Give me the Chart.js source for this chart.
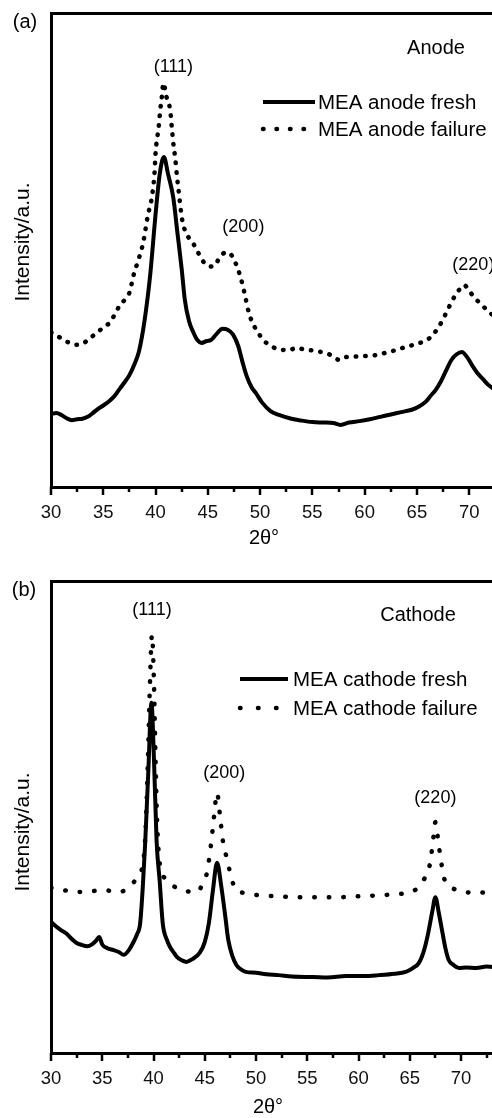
<!DOCTYPE html>
<html>
<head>
<meta charset="utf-8">
<title>XRD anode / cathode</title>
<script src="https://cdn.jsdelivr.net/npm/chart.js@4.4.1/dist/chart.umd.min.js"></script>
<style>
  html, body { margin: 0; padding: 0; background: #fff; overflow: hidden; width: 492px; height: 1118px; }
  .panel { position: relative; width: 492px; height: 559px; overflow: hidden; }
  .panel canvas { position: absolute; left: 0; top: 0; }
</style>
</head>
<body>
<div class="panel"><canvas id="anodeChart" width="511" height="559"></canvas></div>
<div class="panel"><canvas id="cathodeChart" width="502" height="559"></canvas></div>

<script>
'use strict';

const FONT = '"Liberation Sans", Arial, Helvetica, sans-serif';

// ── Anode diffraction (2θ in degrees, intensity a.u.) ──
const anodeFreshX = [
  30.0, 30.5, 31.0, 31.5, 32.0, 32.5, 33.0, 33.5, 34.0, 34.5, 35.0, 35.5, 36.0, 36.5, 37.0, 37.5,
  38.0, 38.4, 38.8, 39.1, 39.5, 40.0, 40.4, 40.8, 41.2, 41.7, 42.1, 42.5, 42.8, 43.2, 43.6, 44.0,
  44.4, 44.9, 45.3, 45.8, 46.4, 46.9, 47.4, 47.9, 48.3, 48.7, 49.2, 49.6, 50.2, 51.0, 51.8, 53.0,
  54.0, 55.0, 56.0, 57.0, 57.7, 58.5, 59.5, 60.5, 61.5, 62.5, 63.5, 64.5, 65.2, 65.8, 66.3, 66.8,
  67.3, 67.8, 68.3, 68.8, 69.3, 69.8, 70.3, 70.8, 71.3, 71.8, 72.4,
];
const anodeFreshY = [
  15.4, 15.6, 15.2, 14.5, 14.1, 14.3, 14.4, 14.8, 15.6, 16.5, 17.2, 18.0, 19.0, 20.5, 22.0, 23.6,
  26.0, 28.5, 33.0, 37.5, 45.0, 57.5, 66.0, 69.6, 66.0, 61.0, 53.5, 46.0, 39.5, 35.0, 32.7, 31.0,
  30.4, 30.8, 31.0, 32.2, 33.4, 33.2, 32.2, 29.8, 26.5, 23.5, 21.0, 19.8, 17.8, 16.0, 15.2, 14.4,
  14.0, 13.7, 13.6, 13.5, 13.1, 13.6, 13.9, 14.3, 14.8, 15.3, 15.8, 16.3, 17.0, 17.9, 19.2, 20.5,
  22.3, 24.6, 26.8, 28.0, 28.5, 27.4, 25.6, 24.0, 22.8, 21.6, 20.6,
];
const anodeFailX = [
  30.0, 30.6, 31.2, 31.8, 32.5, 33.1, 33.6, 34.2, 34.7, 35.2, 35.6, 36.1, 36.6, 37.1, 37.5, 37.9,
  38.4, 38.8, 39.3, 39.6, 39.9, 40.0, 40.3, 40.45, 40.6, 40.75, 41.05, 41.4, 41.55, 41.7, 41.9, 42.05,
  42.2, 42.5, 42.8, 43.6, 44.7, 45.5, 46.2, 46.7, 47.1, 47.6, 48.1, 48.5, 48.9, 49.3, 49.7, 50.3,
  50.9, 51.8, 52.8, 53.5, 54.2, 55.0, 56.0, 56.8, 57.6, 58.2, 59.0, 59.9, 61.0, 62.0, 63.0, 64.0,
  65.0, 66.2, 67.0, 67.8, 68.3, 68.8, 69.2, 69.5, 69.9, 70.3, 70.7, 71.3, 71.9, 72.4,
];
const anodeFailY = [
  32.6, 31.9, 31.0, 30.4, 30.0, 30.3, 31.2, 32.2, 33.1, 34.0, 34.6, 36.4, 38.4, 39.6, 41.0, 44.7,
  48.2, 51.4, 57.7, 60.5, 66.2, 70.4, 76.0, 79.5, 82.3, 85.2, 82.3, 79.5, 76.0, 72.5, 69.0, 65.5,
  62.7, 57.0, 54.2, 51.4, 47.2, 46.5, 48.6, 49.5, 49.3, 47.5, 44.5, 41.0, 37.0, 34.5, 33.0, 31.0,
  30.0, 29.0, 28.9, 29.4, 29.0, 28.8, 28.4, 27.8, 26.8, 27.4, 27.5, 27.6, 27.8, 28.3, 28.9, 29.6,
  30.2, 31.4, 33.5, 36.7, 39.0, 40.9, 42.0, 42.6, 41.8, 40.5, 39.5, 38.2, 36.9, 36.0,
];

// ── Cathode diffraction ──
const cathodeFreshX = [
  30.0, 30.5, 31.0, 31.5, 32.0, 32.5, 33.0, 33.5, 34.0, 34.4, 34.7, 35.0, 35.5, 36.1, 36.6, 37.1,
  37.6, 38.0, 38.4, 38.7, 38.95, 39.2, 39.5, 39.8, 40.05, 40.3, 40.6, 40.9, 41.3, 41.6, 42.0, 42.3,
  42.8, 43.2, 43.8, 44.5, 45.0, 45.4, 45.8, 46.2, 46.6, 47.0, 47.3, 47.7, 48.1, 48.6, 49.0, 50.0,
  51.0, 52.2, 53.5, 55.6, 57.0, 58.8, 60.5, 62.0, 63.5, 64.6, 65.3, 65.9, 66.4, 66.8, 67.2, 67.5,
  67.85, 68.2, 68.5, 68.8, 69.3, 69.8, 70.5, 71.5, 72.5, 73.4,
];
const cathodeFreshY = [
  27.8, 26.8, 26.0, 25.3, 24.2, 23.3, 22.9, 22.6, 23.0, 23.8, 24.6, 23.0, 22.2, 21.8, 21.4, 20.8,
  21.8, 23.3, 25.2, 27.5, 35.0, 45.0, 60.0, 74.2, 62.0, 45.0, 36.5, 27.5, 24.0, 22.5, 21.2, 20.3,
  19.6, 19.3, 19.9, 21.2, 23.5, 27.5, 34.5, 40.3, 35.5, 29.0, 23.9, 20.5, 18.6, 17.6, 17.2, 17.0,
  16.7, 16.5, 16.2, 16.1, 16.0, 16.3, 16.3, 16.5, 16.8, 17.2, 18.0, 19.1, 21.8, 25.4, 30.0, 33.0,
  29.5, 25.4, 22.0, 19.7, 18.6, 18.0, 18.1, 18.0, 18.3, 18.2,
];
const cathodeFailX = [
  30.0, 31.0, 32.5, 34.0, 35.1, 36.0, 36.7, 37.4, 38.0, 38.5, 38.9, 39.2, 39.45, 39.65, 39.85, 40.05,
  40.2, 40.35, 40.6, 41.3, 42.0, 42.8, 44.2, 44.8, 45.2, 45.6, 45.9, 46.2, 46.5, 46.8, 47.2, 47.6,
  48.1, 49.0, 50.0, 52.0, 54.0, 56.0, 58.0, 60.0, 62.0, 64.0, 64.8, 65.9, 66.5, 66.8, 67.1, 67.3,
  67.5, 67.8, 68.1, 68.4, 69.0, 69.6, 71.0, 72.6, 73.4,
];
const cathodeFailY = [
  35.0, 34.6, 34.1, 34.3, 34.5, 34.3, 34.1, 34.8, 36.0, 37.5, 39.4, 46.0, 62.0, 78.0, 88.6, 78.0,
  62.0, 49.4, 40.3, 36.7, 35.3, 34.5, 34.1, 35.8, 38.1, 44.0, 50.0, 55.1, 50.0, 44.5, 40.9, 37.0,
  34.5, 33.9, 33.5, 33.2, 33.0, 33.0, 33.0, 33.2, 33.4, 33.7, 33.9, 35.2, 37.2, 38.3, 42.0, 45.5,
  48.9, 44.5, 40.0, 36.7, 35.2, 34.5, 34.0, 34.0, 34.0,
];

const PEAK_NAMES = ['(111)', '(200)', '(220)'];
const X_TICKS = [30, 35, 40, 45, 50, 55, 60, 65, 70];

const toPoints = (xs, ys) => xs.map((x, i) => ({ x, y: ys[i] }));

// minor / major ticks on the 2θ axis, pointing outward
const axisTicks = {
  id: 'axisTicks',
  afterDraw(chart) {
    const { ctx, chartArea } = chart;
    const sx = chart.scales.x;
    ctx.save();
    ctx.strokeStyle = '#000';
    ctx.lineWidth = 2.5;
    for (let v = 30; v <= sx.max + 0.01; v += 2.5) {
      const px = Math.round(sx.getPixelForValue(v));
      const len = (v % 5 === 0) ? 8 : 5;
      ctx.beginPath();
      ctx.moveTo(px, chartArea.bottom);
      ctx.lineTo(px, chartArea.bottom + len);
      ctx.stroke();
    }
    ctx.restore();
  },
};

// panel letter, axis titles, peak labels and the inline legend
const panelDecor = {
  id: 'panelDecor',
  afterDraw(chart, args, opts) {
    const { ctx } = chart;
    const sx = chart.scales.x, sy = chart.scales.y;
    ctx.save();
    ctx.fillStyle = '#000';
    ctx.textAlign = 'center';
    ctx.textBaseline = 'middle';

    ctx.font = `20px ${FONT}`;
    ctx.fillText(opts.letter, opts.letterPos[0], opts.letterPos[1]);
    ctx.fillText(opts.title, opts.titlePos[0], opts.titlePos[1]);
    ctx.fillText('2θ°', opts.xTitlePos[0], opts.xTitlePos[1]);

    ctx.save();
    ctx.font = `21px ${FONT}`;
    ctx.translate(opts.yTitlePos[0], opts.yTitlePos[1]);
    ctx.rotate(-Math.PI / 2);
    ctx.fillText('Intensity/a.u.', 0, 0);
    ctx.restore();

    ctx.font = `18px ${FONT}`;
    opts.peaks.forEach((p, i) => {
      ctx.fillText(PEAK_NAMES[i], sx.getPixelForValue(p.x), sy.getPixelForValue(p.y));
    });

    // legend rows
    const lg = opts.legend;
    ctx.textAlign = 'left';
    ctx.font = `20.5px ${FONT}`;
    chart.data.datasets.forEach((ds, i) => {
      const y = lg.y + i * lg.rowGap;
      ctx.save();
      ctx.strokeStyle = '#000';
      ctx.lineWidth = ds.borderWidth;
      ctx.lineCap = ds.borderCapStyle || 'butt';
      ctx.setLineDash(ds.borderDash ? lg.dash : []);
      ctx.beginPath();
      ctx.moveTo(lg.x, y);
      ctx.lineTo(lg.x + lg.sampleLen, y);
      ctx.stroke();
      ctx.restore();
      ctx.fillText(ds.label, lg.textX, y + 1);
    });
    ctx.restore();
  },
};

function buildPanel(canvasId, cfg) {
  const axisBorder = { display: true, width: 3, color: '#000' };
  return new Chart(document.getElementById(canvasId), {
    type: 'line',
    data: {
      datasets: [
        {
          label: cfg.freshLabel,
          data: toPoints(cfg.freshX, cfg.freshY),
          borderColor: '#000',
          borderWidth: 4,
          cubicInterpolationMode: 'monotone',
          pointRadius: 0,
          fill: false,
        },
        {
          label: cfg.failLabel,
          data: toPoints(cfg.failX, cfg.failY),
          borderColor: '#000',
          borderWidth: 4.5,
          borderDash: cfg.dash,
          borderCapStyle: 'round',
          cubicInterpolationMode: 'monotone',
          pointRadius: 0,
          fill: false,
        },
      ],
    },
    options: {
      responsive: false,
      animation: false,
      layout: { padding: 0 },
      plugins: {
        legend: { display: false },
        tooltip: { enabled: false },
        panelDecor: cfg.decor,
      },
      scales: {
        x: {
          type: 'linear',
          position: 'bottom',
          min: 30,
          max: cfg.xMax,
          afterFit: s => { s.height = cfg.bottomH; },
          afterBuildTicks: s => { s.ticks = X_TICKS.map(v => ({ value: v })); },
          ticks: {
            color: '#111',
            font: { size: 18.5, family: FONT },
            padding: 15,
            maxRotation: 0,
            autoSkip: false,
          },
          grid: { display: false, drawTicks: false },
          border: axisBorder,
        },
        xTop: {
          type: 'linear',
          position: 'top',
          min: 30,
          max: cfg.xMax,
          afterFit: s => { s.height = cfg.topH; },
          ticks: { display: false },
          grid: { display: false, drawTicks: false },
          border: axisBorder,
        },
        y: {
          min: 0,
          max: 100,
          afterFit: s => { s.width = 51; },
          ticks: { display: false },
          grid: { display: false, drawTicks: false },
          border: axisBorder,
        },
      },
    },
    plugins: [axisTicks, panelDecor],
  });
}

buildPanel('anodeChart', {
  freshX: anodeFreshX, freshY: anodeFreshY,
  failX: anodeFailX, failY: anodeFailY,
  freshLabel: 'MEA anode fresh',
  failLabel: 'MEA anode failure',
  xMax: 74,
  topH: 13,
  bottomH: 72,
  dash: [0.5, 9],
  decor: {
    letter: '(a)', letterPos: [25, 22],
    title: 'Anode', titlePos: [436, 48],
    xTitlePos: [264, 538],
    yTitlePos: [23, 242],
    peaks: [{ x: 41.7, y: 88.6 }, { x: 48.4, y: 54.9 }, { x: 70.4, y: 46.8 }],
    legend: { x: 263, sampleLen: 52, textX: 318, y: 102, rowGap: 27, dash: [0.5, 13] },
  },
});

buildPanel('cathodeChart', {
  freshX: cathodeFreshX, freshY: cathodeFreshY,
  failX: cathodeFailX, failY: cathodeFailY,
  freshLabel: 'MEA cathode fresh',
  failLabel: 'MEA cathode failure',
  xMax: 74,
  topH: 22,
  bottomH: 65,
  dash: [0.5, 14],
  decor: {
    letter: '(b)', letterPos: [24, 31],
    title: 'Cathode', titlePos: [418, 56],
    xTitlePos: [268, 548],
    yTitlePos: [23, 273],
    peaks: [{ x: 39.85, y: 93.9 }, { x: 46.9, y: 59.3 }, { x: 67.5, y: 54 }],
    legend: { x: 240, sampleLen: 48, textX: 293, y: 120, rowGap: 29, dash: [0.5, 17.5] },
  },
});
</script>
</body>
</html>
